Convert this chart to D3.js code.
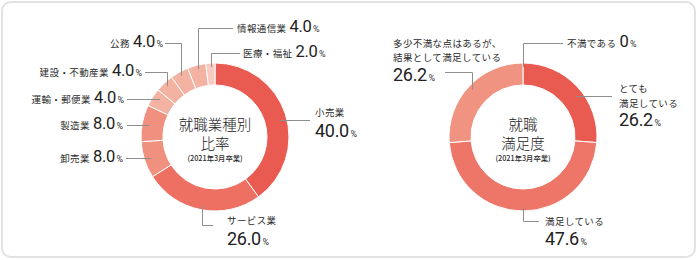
<!DOCTYPE html>
<html>
<head>
<meta charset="utf-8">
<script src="https://cdn.jsdelivr.net/npm/d3@7"></script>
<style>
body{margin:0;background:#fff}
svg{display:block}
text{font-family:"Noto Sans CJK JP",sans-serif;fill:#2b2b2b}
.name{font-size:9.5px;letter-spacing:0.4px}
.num{font-family:Roboto,sans-serif;font-weight:400;fill:#222;letter-spacing:-0.3px}
.pct{font-family:Roboto,sans-serif;font-size:9px;fill:#333}
.leader{fill:none;stroke:#8e8e8e;stroke-width:1}
.title{font-size:14.5px;font-weight:300;fill:#222}
.sub{font-size:7.3px;font-weight:500}
</style>
</head>
<body>
<svg width="698" height="260"></svg>
<script>
// 就職業種別比率
const industries = ['小売業','サービス業','卸売業','製造業','運輸・郵便業','建設・不動産業','公務','情報通信業','医療・福祉']
const industryShares = [40.0,26.0,8.0,8.0,4.0,4.0,4.0,4.0,2.0]
const industryColors = ['#e95b51','#ed7063','#f0907f','#f0907f','#f4b3a2','#f4b3a2','#f4b3a2','#f4b3a2','#f7cbc1']

// 就職満足度
const satisfaction = [['とても','満足している'],['満足している'],['多少不満な点はあるが、','結果として満足している'],['不満である']]
const satisfactionShares = [26.2,47.6,26.2,0]
const satisfactionColors = ['#e95b51','#ee7668','#f19381','#f19381']

const subTitle = '(2021年3月卒業)'

const svg = d3.select('svg')
const outerR = 74, innerR = 52, anchorV = 70, anchorH = 67

svg.append('rect')
  .attr('x',2).attr('y',2).attr('width',693).attr('height',255)
  .attr('rx',9)
  .attr('fill','#fff').attr('stroke','#e2e2e2').attr('stroke-width',2)

const arc = d3.arc().innerRadius(innerR).outerRadius(outerR)
const pie = d3.pie().sort(null).value(d => d)
const px = v => Math.round(v) + 0.5

// label placement, relative to each donut centre
const industryLayout = [
  {type:'stack', tx:100, lines:[-25], nb:0, big:18, leader:'h', ly:-17, lx:95},
  {type:'stack', tx:12, lines:[83], nb:108, big:18, leader:'v', ly:88, lx:-2},
  {type:'row', anchor:'end', tx:-92, ty:21, leader:'h', ly:21, lx:-89},
  {type:'row', anchor:'end', tx:-92, ty:-12, leader:'h', ly:-12, lx:-88},
  {type:'row', anchor:'end', tx:-91, ty:-38, leader:'h', ly:-38, lx:-88},
  {type:'row', anchor:'end', tx:-73, ty:-65, leader:'v', ly:-65, lx:-70},
  {type:'row', anchor:'end', tx:-52, ty:-94, leader:'v', ly:-94, lx:-50},
  {type:'row', anchor:'start', tx:22, ty:-109, leader:'v', ly:-109, lx:18},
  {type:'row', anchor:'start', tx:28, ty:-84, leader:'v', ly:-84, lx:25}
]
const satisfactionLayout = [
  {type:'stack', tx:96, lines:[-49,-34], nb:-11, big:18, leader:'h', ly:-41, lx:89},
  {type:'stack', tx:22, lines:[84], nb:108, big:18, leader:'v', ly:84, lx:16},
  {type:'stack', tx:-130, lines:[-94,-80], nb:-56, big:18, leader:'v', ly:-65, lx:-78},
  {type:'row', anchor:'start', tx:44, ty:-94, leader:'v', ly:-94, lx:40}
]

const fmt = v => v === 0 ? '0' : v.toFixed(1)

function leaderPath(d, L){
  const a = (d.startAngle + d.endAngle) / 2
  if (L.leader === 'v') {
    const x = Math.sin(a) * anchorV, y = -Math.cos(a) * anchorV
    return `M${px(x)},${y}V${px(L.ly)}H${L.lx}`
  }
  const side = Math.sin(a) < 0 ? -1 : 1
  const x = side * Math.sqrt(anchorH * anchorH - L.ly * L.ly)
  return `M${x},${px(L.ly)}H${L.lx}`
}

function donut(cx, cy, names, values, colors, layout, titleLines){
  const g = svg.append('g').attr('transform',`translate(${cx},${cy})`)
  const arcs = pie(values)

  g.selectAll('.slice').data(arcs.filter(d => d.value > 0)).join('path')
    .attr('class','slice')
    .attr('d',arc)
    .attr('fill',d => colors[d.index])
    .attr('stroke','#fff')
    .attr('stroke-width',1)

  g.selectAll('.leader').data(arcs).join('path')
    .attr('class','leader')
    .attr('d',(d,i) => leaderPath(d, layout[i]))

  arcs.forEach((d,i) => {
    const L = layout[i]
    const name = [].concat(names[i])
    if (L.type === 'row') {
      const t = g.append('text')
        .attr('x',L.tx).attr('y',L.ty + 4)
        .attr('text-anchor',L.anchor)
      t.append('tspan').attr('class','name').text(name.join(''))
      t.append('tspan').attr('class','num').attr('dx',3).style('font-size','16.5px').text(fmt(values[i]))
      t.append('tspan').attr('class','pct').attr('dx',1.5).text('%')
    } else {
      name.forEach((s,k) => {
        g.append('text').attr('class','name')
          .attr('x',L.tx).attr('y',L.lines[k])
          .attr('dominant-baseline','central')
          .text(s)
      })
      const t = g.append('text').attr('x',L.tx).attr('y',L.nb)
      t.append('tspan').attr('class','num').style('font-size',L.big + 'px').text(fmt(values[i]))
      t.append('tspan').attr('class','pct').attr('dx',1.5).text('%')
    }
  })

  titleLines.forEach((s,k) => {
    g.append('text').attr('class','title')
      .attr('text-anchor','middle')
      .attr('dominant-baseline','central')
      .attr('y',-14 + k * 19)
      .text(s)
  })
  g.append('text').attr('class','sub')
    .attr('text-anchor','middle')
    .attr('dominant-baseline','central')
    .attr('y',21)
    .text(subTitle)
}

donut(215, 137, industries, industryShares, industryColors, industryLayout, ['就職業種別','比率'])
donut(523, 137, satisfaction, satisfactionShares, satisfactionColors, satisfactionLayout, ['就職','満足度'])
</script>
</body>
</html>
